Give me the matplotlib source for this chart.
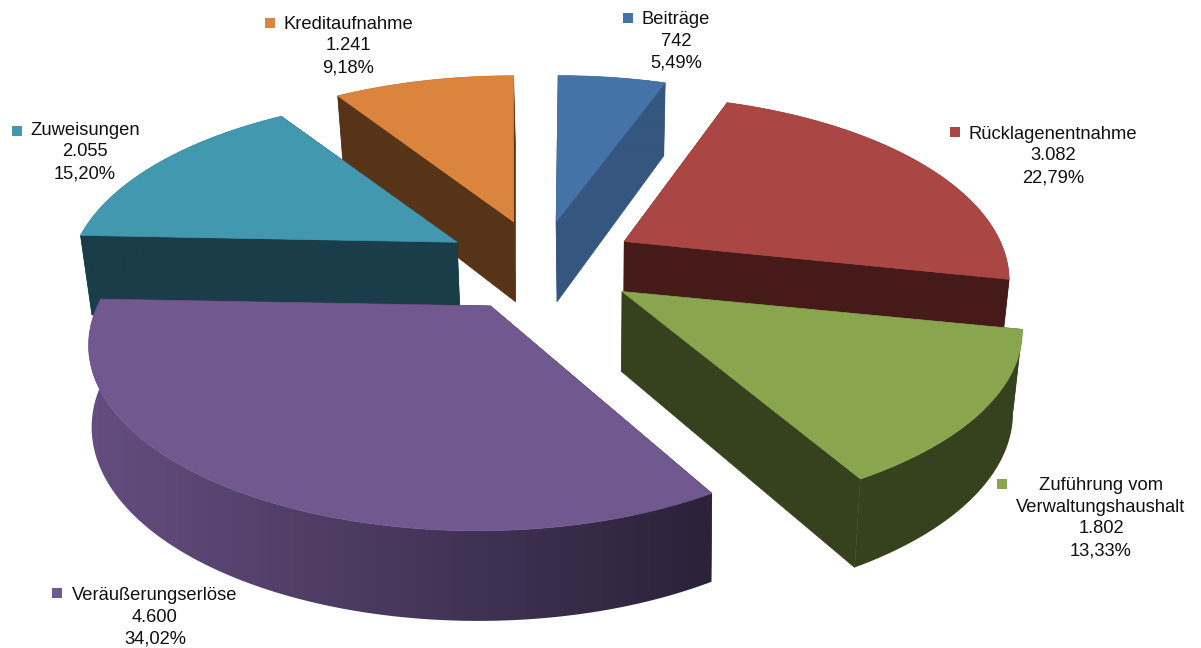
import numpy as np
import matplotlib
matplotlib.use('Agg')
import matplotlib.pyplot as plt
from matplotlib.colors import to_rgb
from matplotlib.patches import Polygon, Rectangle

# Daten
names = ['Beiträge', 'Rücklagenentnahme', 'Zuführung vom\nVerwaltungshaushalt',
         'Veräußerungserlöse', 'Zuweisungen', 'Kreditaufnahme']
values = [742, 3082, 1802, 4600, 2055, 1241]

# Farben: Oberseite, Schnittflaeche, Aussenwand links / rechts
top_colors = ['#4572A7', '#AA4643', '#89A54E', '#71588F', '#4198AF', '#DB843D']
cut_colors = ['#34567F', '#461A18', '#36421E', '#2A2138', '#1A3D49', '#573417']
wall_left = ['#34567F', '#461A18', '#36421E', '#654E80', '#1A3D49', '#573417']
wall_right = ['#34567F', '#461A18', '#36421E', '#2A2138', '#1A3D49', '#573417']

# Lage der Beschriftungen (Pixel)
label_pos = [(676, 41), (1053, 156), (1101, 518), (155, 617), (85, 152), (348, 46)]
key_pos = [(628, 18), (955, 132), (1002, 484), (57, 593), (17, 131), (270, 23)]

# Kamera (Pixel)
cx, cy = 542, 262
radius = 380
squash = 177
persp = 0.2125
depth = 80
explode = 100
explode_ratio = 0.42
vanish_x = 600

# Feinkorrektur je Stueck
apex_nudge = [(-3, 1), (-5, 0), (-1, 5), (0, 8), (2, 1), (0, 0)]
radius_scale = [1.0, 1.0, 1.047, 1.0, 1.0, 1.0]
arc_dx = [2, -4, -7, -13, 0, 0]
converge = [0.022, 0.022, 0.022, 0.006, 0.022, 0.022]

draw_order = [0, 5, 1, 4, 2, 3]


def project(theta, apex, scale=1.0, dx=0.0, lower=False, conv=0.0):
    # theta im Uhrzeigersinn von oben
    x = np.sin(theta)
    y = np.cos(theta)
    w = 1 + persp * y
    sx = apex[0] + dx + radius * scale * x / w
    sy = apex[1] - squash * y / w
    if lower:
        sy = sy + depth / np.sqrt(w)
        sx = sx - (sx - vanish_x) * conv
    return sx, sy


total = sum(values)
edges = np.concatenate([[0], np.cumsum(values)]) / total * 2 * np.pi

plt.rcParams['font.family'] = ['Liberation Sans', 'DejaVu Sans']
fig = plt.figure(figsize=(12.01, 6.48), dpi=100)
ax = fig.add_axes([0, 0, 1, 1])

z = 1
for i in draw_order:
    t0, t1 = edges[i], edges[i + 1]
    mid = (t0 + t1) / 2
    apex = (cx + explode * np.sin(mid) + apex_nudge[i][0],
            cy - explode * explode_ratio * np.cos(mid) + apex_nudge[i][1])
    a_low = (apex[0] - (apex[0] - vanish_x) * converge[i], apex[1] + depth)
    s, d, c = radius_scale[i], arc_dx[i], converge[i]
    # Schnittflaechen
    for t in (t0, t1):
        quad = [apex, project(t, apex, s, d), project(t, apex, s, d, True, c), a_low]
        ax.add_patch(Polygon(quad, closed=True, fc=cut_colors[i], ec=cut_colors[i], lw=0.5, zorder=z))
        z += 1
    # Aussenwand, Verlauf als Bild
    ts = np.linspace(t0, t1, 200)
    up = np.column_stack(project(ts, apex, s, d))
    lo = np.column_stack(project(ts, apex, s, d, True, c))
    wall = Polygon(np.vstack([up, lo[::-1]]), closed=True, transform=ax.transData)
    x0, x1 = up[:, 0].min(), up[:, 0].max()
    c_l, c_r = np.array(to_rgb(wall_left[i])), np.array(to_rgb(wall_right[i]))
    grad = np.linspace(0, 1, 256)[None, :, None] * (c_r - c_l) + c_l
    im = ax.imshow(grad, extent=[x0 - 10, x1 + 10, 648, 0], aspect='auto', zorder=z, interpolation='bilinear')
    im.set_clip_path(wall)
    z += 1
    # Oberseite
    ax.add_patch(Polygon(np.vstack([[apex], up]), closed=True,
                         fc=top_colors[i], ec=top_colors[i], lw=0.5, zorder=z))
    z += 1

ax.set_xlim(0, 1201)
ax.set_ylim(648, 0)
ax.axis('off')

for i in range(len(names)):
    val = f'{values[i]:,}'.replace(',', '.')
    pct = f'{values[i] / total * 100:.2f}%'.replace('.', ',')
    ax.text(label_pos[i][0], label_pos[i][1], f'{names[i]}\n{val}\n{pct}', ha='center', va='center',
            multialignment='center', fontsize=13.2, color='#111111', linespacing=1.36, zorder=z)
    ax.add_patch(Rectangle((key_pos[i][0] - 5, key_pos[i][1] - 5), 10, 10, fc=top_colors[i], ec='none', zorder=z))

fig.savefig('out.png', dpi=100)
